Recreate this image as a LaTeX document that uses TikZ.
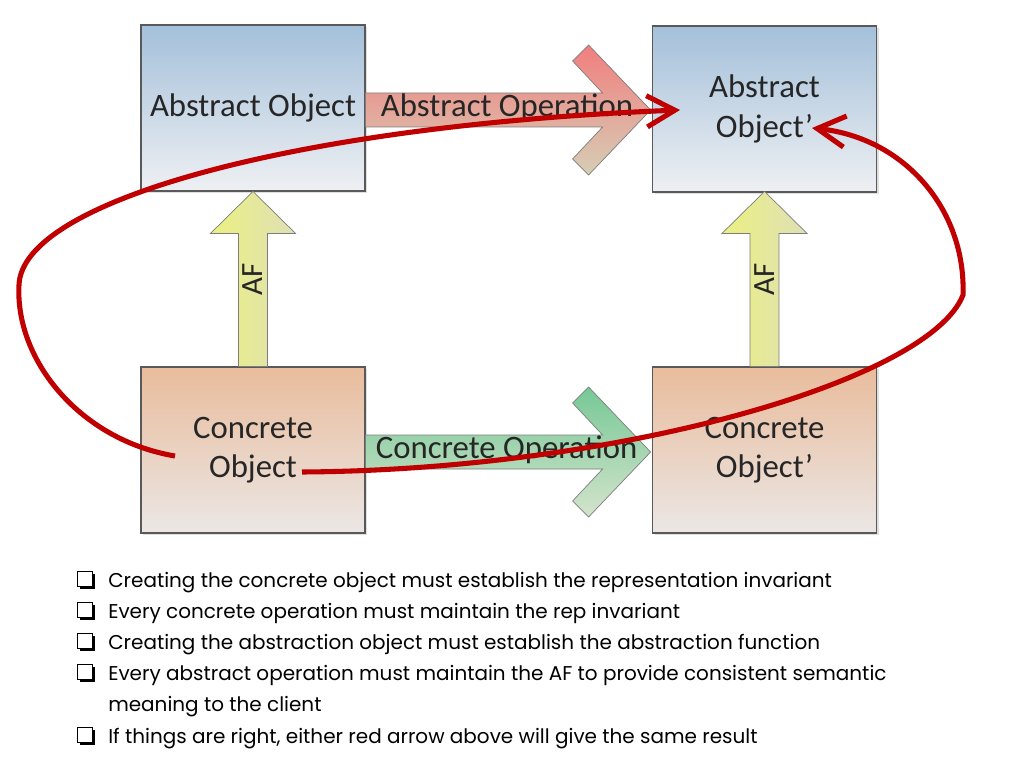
\documentclass[tikz,border=0pt]{standalone}
\usepackage{fontspec}
\setmainfont{Carlito}
\newfontfamily\listfont{Poppins}
\usetikzlibrary{arrows.meta, positioning, shadows, calc}

\definecolor{abstop}{RGB}{164,192,218}
\definecolor{absbot}{RGB}{238,240,243}
\definecolor{contop}{RGB}{233,188,156}
\definecolor{conbot}{RGB}{235,231,229}
\definecolor{optopred}{RGB}{241,126,126}
\definecolor{opbotred}{RGB}{214,206,182}
\definecolor{optopgreen}{RGB}{118,200,150}
\definecolor{opbotgreen}{RGB}{212,228,204}
\definecolor{afleft}{RGB}{236,240,128}
\definecolor{afright}{RGB}{222,224,182}
\definecolor{boxline}{RGB}{89,89,89}
\definecolor{shapeline}{RGB}{125,125,125}
\definecolor{txt}{RGB}{38,38,38}
\definecolor{markred}{RGB}{192,0,0}

\begin{document}
\begin{tikzpicture}[
  x=0.025cm, y=-0.025cm,
  box/.style={draw=boxline, line width=0.8pt, minimum width=5.6cm, minimum height=4.15cm,
    align=center, text=txt, font=\fontsize{23.3}{28}\selectfont,
    drop shadow={opacity=0.25, shadow xshift=1.5pt, shadow yshift=-1.5pt}},
  absbox/.style={box, top color=abstop, bottom color=absbot},
  conbox/.style={box, top color=contop, bottom color=conbot},
  opshape/.style={draw=shapeline, line width=0.5pt, line join=miter},
  oplabel/.style={inner sep=0, text=txt, font=\fontsize{23.3}{28}\selectfont},
  aflabel/.style={inner sep=0, rotate=90, text=txt, font=\fontsize{22}{26}\selectfont},
  redarrow/.style={draw=markred, line width=3.6pt, -{Straight Barb[length=0.7cm, width=0.78cm]}},
  chk/.style={draw=black, line width=0.7pt, fill=white, minimum size=0.36cm, inner sep=0,
    general shadow={fill=black, shadow xshift=1.7pt, shadow yshift=-1.7pt}},
  item/.style={anchor=base west, inner sep=0, align=left, font=\listfont\fontsize{14.2}{22}\selectfont}
]
  \useasboundingbox (0,0) rectangle (1024,768);

  % the four objects
  \node[absbox] (abs) at (253,108) {Abstract Object};
  \node[absbox] (absp) at (764.5,109) {Abstract\\Object’};
  \node[conbox] (con) at (253,450) {Concrete\\Object};
  \node[conbox] (conp) at (764.5,450) {Concrete\\Object’};

  % operations
  \draw[opshape, top color=optopred, bottom color=opbotred] (abs.east) ++(0,-15)
    -- ++(237,0) -- ++(-30,-32) -- ++(16,-16) -- ++(62,65) -- ++(-62,65)
    -- ++(-16,-16) -- ++(30,-32) -- ++(-237,0) -- cycle;
  \draw[opshape, top color=optopgreen, bottom color=opbotgreen] (con.east) ++(0,-15)
    -- ++(237,0) -- ++(-30,-32) -- ++(16,-16) -- ++(62,65) -- ++(-62,65)
    -- ++(-16,-16) -- ++(30,-32) -- ++(-237,0) -- cycle;
  \node[oplabel, right=0.375cm of abs.east, anchor=west] (absop) {Abstract Operation};
  \node[oplabel, right=0.25cm of con.east, anchor=west] (conop) {Concrete Operation};

  % abstraction function
  \draw[opshape, left color=afleft, right color=afright] (con.north) ++(-14.5,0)
    -- ++(0,-133) -- ++(-28,0) -- ++(42.5,-42) -- ++(42.5,42) -- ++(-28,0) -- ++(0,133) -- cycle;
  \draw[opshape, left color=afleft, right color=afright] (conp.north) ++(-14.5,0)
    -- ++(0,-133) -- ++(-28,0) -- ++(42.5,-42) -- ++(42.5,42) -- ++(-28,0) -- ++(0,133) -- cycle;
  \node[aflabel] (af) at ($(abs.south)!0.5!(con.north)$) {AF};
  \node[aflabel] (afp) at ($(absp.south)!0.5!(conp.north)$) {AF};

  % the two ways round
  \coordinate (r1s) at (175,456);
  \coordinate (r1m) at (19,285);
  \coordinate (r1e) at (680,110);
  \coordinate (r2s) at (302,472);
  \coordinate (r2m) at (963,295);
  \coordinate (r2e) at (812,128);
  \draw[redarrow] (r1s) .. controls (80,440) and (15,360) .. (r1m)
    .. controls (22,200) and (300,125) .. (r1e);
  \draw[redarrow] (r2s) .. controls (620,470) and (930,380) .. (r2m)
    .. controls (966,210) and (905,138) .. (r2e);

  % notes
  \node[chk] (c1) at (85,579) {};
  \node[chk] (c2) at (85,610) {};
  \node[chk] (c3) at (85,641) {};
  \node[chk] (c4) at (85,672) {};
  \node[chk] (c5) at (85,735) {};
  \node[item] (t1) at (108,587) {Creating the concrete object must establish the representation invariant};
  \node[item] (t2) at (108,618) {Every concrete operation must maintain the rep invariant};
  \node[item] (t3) at (108,649) {Creating the abstraction object must establish the abstraction function};
  \node[item] (t4) at (108,711) {Every abstract operation must maintain the AF to provide consistent semantic\\meaning to the client};
  \node[item] (t5) at (108,743) {If things are right, either red arrow above will give the same result};
\end{tikzpicture}
\end{document}
